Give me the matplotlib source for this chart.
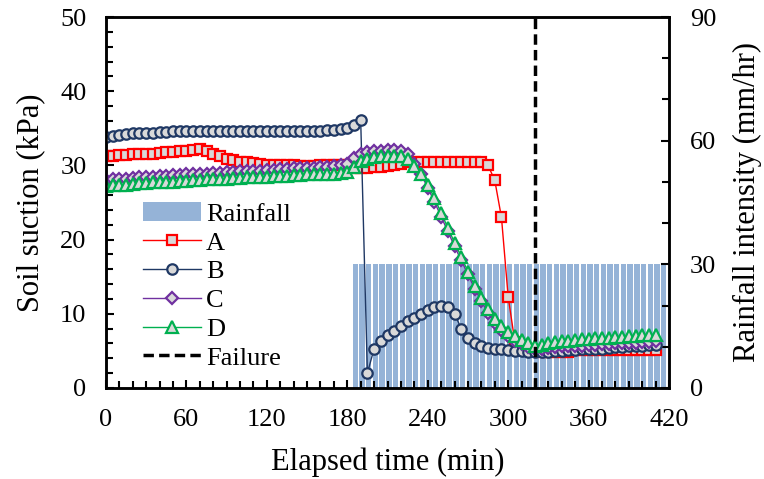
import matplotlib.pyplot as plt
from matplotlib.ticker import MultipleLocator

plt.rcParams['font.family'] = ['Liberation Serif', 'DejaVu Serif']

# Час спостереження (хв), крок 5 хв
time = list(range(0, 415, 5))

suction_a = [31.2, 31.3, 31.4, 31.4, 31.5, 31.5, 31.6, 31.6, 31.7, 31.8, 31.8, 31.9, 32.0, 32.1, 32.2,
             32.0, 31.6, 31.2, 30.9, 30.7, 30.5, 30.4, 30.3, 30.2, 30.1, 30.1, 30.0, 30.0, 30.0,
             29.9, 29.9, 29.9, 30.0, 30.0, 30.0, 30.1, 30.1,
             29.7, 29.7, 29.7, 29.8, 29.8, 29.9, 30.0, 30.2, 30.4, 30.5, 30.5,
             30.5, 30.5, 30.5, 30.5, 30.5, 30.5, 30.5, 30.5, 30.5,
             30.0, 28.0, 23.0, 12.3, 6.2, 5.6, 5.3, 5.0,
             4.8, 4.8, 4.8, 4.8, 4.8, 5.1, 5.1, 5.1, 5.1, 5.1, 5.1, 5.1, 5.1, 5.1, 5.1, 5.1, 5.1, 5.1]

suction_b = [33.8, 34.0, 34.1, 34.2, 34.3, 34.3, 34.4, 34.4, 34.5, 34.5, 34.6, 34.6, 34.6,
             34.7, 34.7, 34.7, 34.7, 34.7, 34.7, 34.7, 34.7, 34.6, 34.6, 34.6, 34.6, 34.6,
             34.6, 34.6, 34.6, 34.6, 34.7, 34.7, 34.7, 34.8, 34.8, 34.9, 35.1, 35.4, 36.1,
             2.0, 5.3, 6.4, 7.1, 7.7, 8.3, 9.0, 9.5, 10.0, 10.5, 10.9, 11.1, 10.9,
             10.0, 8.0, 6.7, 6.0, 5.6, 5.4, 5.3, 5.2, 5.1, 5.0, 5.0, 4.9, 4.9,
             4.9, 4.9, 5.0, 5.0, 5.1, 5.1, 5.2, 5.2, 5.3, 5.3, 5.4, 5.5, 5.5, 5.6, 5.6, 5.7, 5.8, 5.8]

suction_c = [28.0, 28.1, 28.2, 28.2, 28.3, 28.4, 28.4, 28.5, 28.6, 28.6, 28.7, 28.7, 28.8,
             28.8, 28.9, 28.9, 29.0, 29.0, 29.1, 29.1, 29.2, 29.2, 29.3, 29.3, 29.4, 29.4,
             29.5, 29.5, 29.6, 29.6, 29.7, 29.7, 29.8, 29.8, 29.9, 30.0, 30.2, 31.0, 31.6,
             31.8, 32.0, 32.0, 32.1, 32.1, 32.0, 31.5, 30.2, 28.8, 27.0, 25.1, 23.1, 21.1,
             19.1, 17.2, 15.3, 13.4, 11.7, 10.1, 8.8, 7.8, 7.0, 6.4, 5.9, 5.5, 5.2,
             5.3, 5.4, 5.5, 5.6, 5.6, 5.7, 5.7, 5.8, 5.8, 5.9, 5.9, 6.0, 6.0, 6.1, 6.1, 6.2, 6.2, 6.3]

suction_d = [27.2, 27.3, 27.4, 27.4, 27.5, 27.6, 27.6, 27.7, 27.7, 27.8, 27.8, 27.9, 27.9,
             28.0, 28.0, 28.1, 28.1, 28.2, 28.2, 28.3, 28.3, 28.4, 28.4, 28.5, 28.5, 28.6,
             28.6, 28.6, 28.7, 28.7, 28.8, 28.8, 28.8, 28.9, 28.9, 29.0, 29.1, 29.8, 30.6,
             30.9, 31.1, 31.2, 31.3, 31.3, 31.2, 30.8, 29.9, 28.9, 27.4, 25.6, 23.6, 21.6,
             19.6, 17.7, 15.7, 13.8, 12.1, 10.6, 9.3, 8.4, 7.6, 7.0, 6.5, 6.0, 5.6,
             5.8, 6.0, 6.2, 6.3, 6.4, 6.5, 6.6, 6.6, 6.7, 6.8, 6.8, 6.9, 6.9, 7.0, 7.0, 7.1, 7.1, 7.2]

# Дощ: інтенсивність 30 мм/год з 185 хв
rain_time = list(range(185, 420, 5))
rain_intensity = [30] * len(rain_time)

failure_time = 320

fig = plt.figure(figsize=(7.64, 4.79), dpi=100)
ax = fig.add_axes([0.1387, 0.19, 0.737, 0.7745])
ax2 = ax.twinx()

bars = ax2.bar([t - 1 for t in rain_time], rain_intensity, width=4, align='edge',
               color='#95B3D7', label='Rainfall')
ax2.set_ylim(0, 90)
ax2.set_yticks([0, 30, 60, 90])
ax2.yaxis.set_minor_locator(MultipleLocator(10))
ax2.set_ylabel('Rainfall intensity (mm/hr)', fontsize=22, labelpad=12)

ax.set_zorder(ax2.get_zorder() + 1)
ax.patch.set_visible(False)

mk = dict(markerfacecolor='#D9D9D9', markeredgewidth=1.6, linewidth=1)
la, = ax.plot(time, suction_a, color='#FF0000', marker='s', markersize=7, label='A', **mk)
lb, = ax.plot(time, suction_b, color='#1F3864', marker='o', markersize=7.5, label='B', **mk)
lc, = ax.plot(time, suction_c, color='#7030A0', marker='D', markersize=6, label='C', **mk)
ld, = ax.plot(time, suction_d, color='#00B050', marker='^', markersize=8, label='D', **mk)
lf = ax.axvline(failure_time, color='black', linestyle=(0, (3, 1.5)), linewidth=2.5,
                label='Failure', zorder=5)

ax.set_xlim(0, 420)
ax.set_ylim(0, 50)
ax.set_xticks(range(0, 421, 60))
ax.xaxis.set_minor_locator(MultipleLocator(10))
ax.yaxis.set_minor_locator(MultipleLocator(2))
ax.set_xlabel('Elapsed time (min)', fontsize=22, labelpad=12)
ax.set_ylabel('Soil suction (kPa)', fontsize=22, labelpad=11)

for a in (ax, ax2):
    a.tick_params(which='both', direction='in', labelsize=19, width=1.5)
    a.tick_params(which='major', length=6)
    a.tick_params(which='minor', length=5)
    for s in a.spines.values():
        s.set_linewidth(1.8)
ax.tick_params(axis='x', which='both', pad=15)
ax.tick_params(axis='y', which='both', pad=14)
ax2.tick_params(axis='y', which='both', pad=15)

ax.legend([bars, la, lb, lc, ld, lf], ['Rainfall', 'A', 'B', 'C', 'D', 'Failure'],
          loc='upper left', bbox_to_anchor=(0.065, 0.50), frameon=False, fontsize=19,
          numpoints=1, handlelength=2.2, handletextpad=0.2, labelspacing=0.2,
          borderpad=0, borderaxespad=0)

fig.savefig('out.png', dpi=100)
